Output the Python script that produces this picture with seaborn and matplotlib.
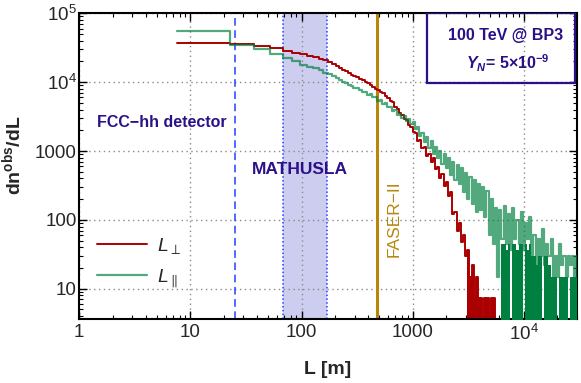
# step histograms of the decay length for 100 TeV @ BP3, with detector positions

import numpy as np
import pandas as pd
import seaborn as sns
import matplotlib.pyplot as plt
from matplotlib.ticker import FixedLocator, FuncFormatter, LogLocator, NullFormatter
from matplotlib.patches import Rectangle

# bin positions in m (15 m bins at small L, coarser read-off points further out)
L_m = [7.5, 22.5, 37.5, 52.5, 67.5, 82.5, 97.5, 112.5, 127.5, 142.5,
       157.5, 172.5, 187.5, 202.5, 217.5, 232.5, 247.5, 262.5, 277.5, 292.5, 307.5,
       330, 350, 370, 390, 410, 430, 455, 480, 505, 530,
       560, 590, 620, 650, 685, 720, 755, 790, 830, 870,
       910, 955, 1000, 1050, 1100, 1150, 1200, 1260, 1320, 1380,
       1450, 1520, 1590, 1660, 1740, 1820, 1900, 1990, 2080, 2180,
       2280, 2380, 2490, 2600, 2720, 2840, 2970, 3100, 3240, 3390,
       3540, 3700, 3870, 4050, 4230, 4420, 4620, 4830, 5050, 5280,
       5520, 5770, 6030, 6300, 6590, 6890, 7200, 7520, 7860, 8220,
       8590, 8980, 9390, 9810, 10260, 10720, 11200, 11710, 12240, 12800,
       13380, 13980, 14620, 15280, 15970, 16690, 17450, 18240, 19060, 19930,
       20830, 21770, 22760, 23790, 24870, 26000, 27170, 28400, 29700, 30000]

# L_perp (red), ends at 5520 m
n_perp = [37200, 35300, 33900, 31600, 28200, 26900, 25700, 24000, 22900, 21900,
          20900, 19500, 18200, 17000, 15800, 15100, 14500, 13800, 12900, 12300, 11700,
          11000, 10600, 10000, 9700, 9000, 8600, 8000, 7700, 7100, 6900,
          6200, 5900, 5300, 5100, 4400, 4050, 3550, 3350, 2950, 2800,
          2400, 2200, 1900, 1800, 1400, 1450, 1100, 1150, 850, 920,
          690, 780, 540, 590, 400, 470, 310, 360, 220, 250,
          120, 130, 70, 90, 48, 60, 30, 36, 15, 22,
          7.4, 14.8, 7.4, 7.4, 0, 7.4, 7.4, 0, 7.4, 7.4,
          0]

# L_parallel (green)
n_par = [55300, 35200, 30700, 26000, 22700, 20000, 17800, 16600, 15800, 14800,
         13800, 13200, 12300, 11500, 10700, 10200, 9800, 9100, 8700, 8300, 8100,
         7800, 7200, 7300, 6600, 6700, 6000, 6100, 5400, 5500, 4800,
         4900, 4300, 4400, 3800, 3900, 3300, 3500, 3000, 3200, 2700,
         2900, 2450, 2650, 2100, 2200, 1650, 1850, 1350, 1600, 1100,
         1400, 900, 1150, 780, 1000, 650, 900, 560, 800, 450,
         700, 380, 620, 330, 560, 250, 480, 200, 420, 170,
         380, 130, 330, 140, 300, 110, 260, 60, 200, 45,
         150, 15, 140, 52, 160, 44, 120, 37, 150, 52,
         100, 44, 130, 37, 90, 52, 110, 30, 60, 22,
         52, 30, 74, 22, 44, 30, 52, 15, 30, 15,
         44, 22, 30, 15, 30, 22, 30, 15, 30, 30]

# dense low-count part of the green tail, from 6300 m on
n_par_body = [44, 44, 37, 44, 0, 44, 44, 37, 44, 44,
              0, 44, 37, 44, 30, 30, 22, 30, 30, 0,
              30, 30, 22, 15, 15, 15, 0, 15, 15, 15,
              15, 0, 15, 15, 15, 15, 15]

# detector distances in m
L_fcc = 25
L_mathusla = (68, 168)
L_faser = 480

indigo = '#2b1087'
red = '#aa0000'
green = '#008040'

sns.set_theme(style='ticks')
plt.rcParams['font.family'] = ['Liberation Sans', 'DejaVu Sans']
plt.rcParams['mathtext.fontset'] = 'custom'
plt.rcParams['mathtext.rm'] = 'Liberation Sans'
plt.rcParams['mathtext.it'] = 'Liberation Sans:italic'
plt.rcParams['mathtext.bf'] = 'Liberation Sans:bold'
plt.rcParams['mathtext.bfit'] = 'Liberation Sans:italic:bold'

fig = plt.figure(figsize=(5.81, 3.83), dpi=100)
ax = fig.add_axes([0.1365, 0.1663, 0.8561, 0.799])

# detectors
ax.axvspan(*L_mathusla, color='#cdcdf0', lw=0, zorder=0)
for x in L_mathusla:
    ax.axvline(x, color='#2040ff', ls=(0, (1, 1.5)), lw=1.1, zorder=1)
ax.axvline(L_fcc, color='#2040ff', ls=(0, (5, 3)), lw=1.1, zorder=1)
ax.axvline(L_faser, color='#b8860b', lw=2.2, zorder=1)

df_perp = pd.DataFrame({'L': L_m[:len(n_perp)], 'n': n_perp})
df_par = pd.DataFrame({'L': L_m, 'n': n_par})

# filled low-count tails
i_red = L_m.index(3100)
ax.fill_between(df_perp['L'][i_red:], 1, np.maximum(df_perp['n'][i_red:], 1),
                step='post', color=red, lw=0, zorder=2)
i_body = L_m.index(6300)
ax.fill_between(L_m[i_body:], 1, np.maximum(n_par_body, 1),
                step='post', color=green, lw=0, zorder=3)

sns.lineplot(data=df_perp, x='L', y='n', drawstyle='steps-post', color=red,
             lw=1.4, estimator=None, ax=ax, label=r'$L_{\perp}$', zorder=2)
sns.lineplot(data=df_par, x='L', y='n', drawstyle='steps-post', color=green,
             lw=1.6, alpha=0.68, estimator=None, ax=ax, label=r'$L_{\parallel}$', zorder=3)

ax.set_xscale('log')
ax.set_yscale('log')
ax.set_xlim(1, 30000)
ax.set_ylim(3.6, 1e5)


def fmt(v, pos):
    if v >= 1e4:
        return r'$\mathregular{10^{%d}}$' % int(round(np.log10(v)))
    return f'{v:g}'


ax.xaxis.set_major_locator(FixedLocator([1, 10, 100, 1000, 1e4]))
ax.yaxis.set_major_locator(FixedLocator([10, 100, 1000, 1e4, 1e5]))
ax.xaxis.set_major_formatter(FuncFormatter(fmt))
ax.yaxis.set_major_formatter(FuncFormatter(fmt))
for a in (ax.xaxis, ax.yaxis):
    a.set_minor_locator(LogLocator(base=10, subs=range(2, 10), numticks=20))
    a.set_minor_formatter(NullFormatter())

ax.grid(which='major', ls=(0, (1, 2.5)), color='#8a8a8a', lw=1.0)
ax.tick_params(which='both', direction='in', top=True, right=True, color='black')
ax.tick_params(which='major', length=6, width=1, labelsize=13.5)
ax.tick_params(which='minor', length=3, width=0.8)
ax.tick_params(axis='y', pad=2)
for s in ax.spines.values():
    s.set_linewidth(1.5)
    s.set_color('black')

ax.set_xlabel('L [m]', fontsize=14, fontweight='bold')
ax.set_ylabel(r'dn$^{\mathbf{obs}}$/dL', fontsize=14, fontweight='bold')
ax.xaxis.set_label_coords(0.5, -0.135)
ax.yaxis.set_label_coords(-0.11, 0.537)

ax.legend(loc='upper left', bbox_to_anchor=(0.0, 0.33), frameon=False, fontsize=14,
          handlelength=2.6, labelspacing=0.6, handletextpad=0.5)

ax.text(1.435, 2560, 'FCC−hh detector', color=indigo, fontsize=11.5,
        fontweight='bold', ha='left', va='center')
ax.text(97, 532, 'MATHUSLA', color=indigo, fontsize=12.5, fontweight='bold',
        ha='center', va='center')
ax.text(680, 103, 'FASER−II', color='#b8860b', fontsize=12.5, rotation=90,
        ha='center', va='center')

ax.add_patch(Rectangle((0.70, 0.773), 0.296, 0.227, transform=ax.transAxes,
                       fill=False, edgecolor=indigo, lw=1.6, zorder=5))
ax.text(0.856, 0.929, '100 TeV @ BP3', transform=ax.transAxes, color=indigo,
        fontsize=11.5, fontweight='bold', ha='center', va='center')
ax.text(0.862, 0.838, r'$\mathbfit{Y_N}$= 5×10$^{\mathbf{-9}}$', transform=ax.transAxes,
        color=indigo, fontsize=11.5, fontweight='bold', ha='center', va='center')

fig.savefig('out.png', dpi=100)
